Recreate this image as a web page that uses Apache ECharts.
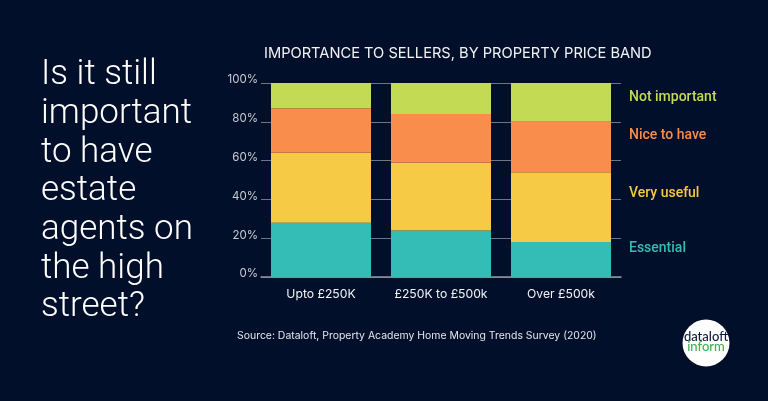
<!DOCTYPE html>
<html>
<head>
<meta charset="utf-8">
<style>html,body{margin:0;padding:0;background:#020f2a}#main{width:768px;height:401px}</style>
<script src="https://cdn.jsdelivr.net/npm/echarts@6/dist/echarts.min.js"></script>
</head>
<body>
<div id="main"></div>
<script>
var bands = ['Upto £250K', '£250K to £500k', 'Over £500k'];
var essential = [28, 24, 18];
var veryUseful = [36, 35, 36];
var niceToHave = [23, 25, 26];
var notImportant = [13, 16, 20];
var headline = 'Is it still\nimportant\nto have\nestate\nagents on\nthe high\nstreet?';

function stack(name, data, color) {
    return { name: name, type: 'bar', stack: 'all', data: data, barWidth: 100, itemStyle: { color: color } };
}
function sideLabel(text, y, color) {
    return { type: 'text', x: 629, y: y, style: { text: text, fill: color, font: '500 14px Roboto', textVerticalAlign: 'middle' } };
}

var myChart = echarts.init(document.getElementById('main'));
myChart.setOption({
    backgroundColor: '#020f2a',
    animation: false,
    textStyle: { fontFamily: 'Roboto' },
    title: {
        text: 'IMPORTANCE TO SELLERS, BY PROPERTY PRICE BAND',
        left: 259, top: 41,
        textStyle: { color: '#f2f3f5', fontSize: 14.65, fontWeight: 400, fontFamily: 'Inter' }
    },
    grid: { left: 261, top: 83, width: 360, height: 194 },
    xAxis: {
        type: 'category', data: bands,
        axisTick: { show: false },
        axisLine: { lineStyle: { color: '#8d949f', width: 1.5 } },
        axisLabel: { color: '#f2f3f5', fontSize: 12.2, margin: 11, interval: 0, fontFamily: 'Inter' }
    },
    yAxis: {
        type: 'value', min: 0, max: 100, interval: 20,
        axisLabel: { color: '#c9ccd2', fontSize: 11.5, margin: 3, formatter: '{value}%', fontFamily: 'Inter', verticalAlign: 'bottom', lineHeight: 6 },
        axisLine: { show: false },
        splitLine: { lineStyle: { color: '#6f7683', width: 1 } }
    },
    series: [
        stack('Essential', essential, '#34bdb6'),
        stack('Very useful', veryUseful, '#f7ca45'),
        stack('Nice to have', niceToHave, '#f98d4b'),
        stack('Not important', notImportant, '#c3da54')
    ],
    graphic: [
        { type: 'text', x: 41, y: 56, style: { text: headline, fill: '#ffffff', font: '300 35px Roboto', lineHeight: 38.7 } },
        sideLabel('Not important', 97, '#c3da54'),
        sideLabel('Nice to have', 135, '#f98d4b'),
        sideLabel('Very useful', 193, '#f7ca45'),
        sideLabel('Essential', 248, '#34bdb6'),
        { type: 'text', x: 237, y: 331, style: { text: 'Source: Dataloft, Property Academy Home Moving Trends Survey (2020)', fill: '#e4e6ea', font: '10.45px Inter' } },
        { type: 'circle', shape: { cx: 706, cy: 343, r: 23.5 }, style: { fill: '#ffffff' } },
        { type: 'text', x: 706, y: 337, style: { text: 'dataloft', fill: '#0e1a3a', font: '500 13px Lato', textAlign: 'center', textVerticalAlign: 'middle' } },
        { type: 'text', x: 706, y: 347, style: { text: 'inform', fill: '#3cb54a', font: '500 13px Lato', textAlign: 'center', textVerticalAlign: 'middle' } }
    ]
});
</script>
</body>
</html>
